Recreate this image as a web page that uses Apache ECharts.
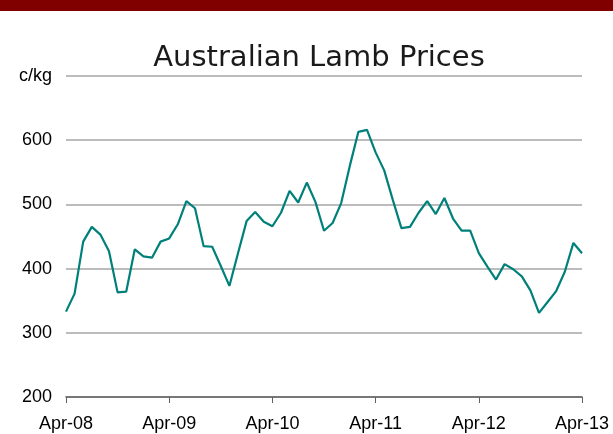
<!DOCTYPE html>
<html>
<head>
<meta charset="utf-8">
<script src="https://cdn.jsdelivr.net/npm/echarts@6/dist/echarts.min.js"></script>
<style>
  html, body { margin: 0; padding: 0; background: #fff; }
  #bar { position: absolute; left: 0; top: 0; width: 613px; height: 11px; background: #800000; }
  #chart { position: absolute; left: 0; top: 0; width: 613px; height: 434px; }
</style>
</head>
<body>
<div id="chart"></div>
<div id="bar"></div>
<script>
// monthly lamb prices, c/kg, Apr-08 .. Apr-13
const xTickLabels = ["Apr-08", "Apr-09", "Apr-10", "Apr-11", "Apr-12", "Apr-13"];
const prices = [
  333, 361, 442, 465, 453, 427, 363, 364, 430, 419, 417, 442,
  447, 469, 505, 494, 435, 434, 404, 373, 424, 474, 488, 473,
  466, 487, 521, 503, 534, 504, 459, 471, 502, 560, 613, 616,
  581, 553, 507, 463, 465, 487, 505, 485, 510, 478, 459, 459,
  424, 403, 383, 407, 399, 388, 366, 331, 348, 365, 395, 440,
  424
];
const yTicks = [200, 300, 400, 500, 600, 700];

const chart = echarts.init(document.getElementById("chart"));
const labelFont = { fontFamily: "Liberation Sans, Arial, sans-serif", fontSize: 18, color: "#000" };

chart.setOption({
  animation: false,
  title: {
    text: "Australian Lamb Prices",
    left: 314,
    top: 39,
    textAlign: "center",
    textStyle: { fontFamily: "DejaVu Sans", fontWeight: "normal", fontSize: 29, color: "#1a1a1a" }
  },
  grid: { left: 66, right: 31, top: 76, bottom: 37 },
  xAxis: {
    type: "value",
    min: 0,
    max: 60,
    interval: 12,
    axisLine: { lineStyle: { color: "#606060", width: 1.5 } },
    axisTick: { show: true, length: 6, lineStyle: { color: "#606060" } },
    splitLine: { show: false },
    axisLabel: Object.assign({
      margin: 18,
      formatter: v => xTickLabels[v / 12] || ""
    }, labelFont)
  },
  yAxis: {
    type: "value",
    min: yTicks[0],
    max: yTicks[yTicks.length - 1],
    interval: 100,
    axisLine: { show: false },
    axisTick: { show: false },
    splitLine: { lineStyle: { color: "#a6a6a6", width: 1.5 } },
    axisLabel: Object.assign({
      margin: 14,
      formatter: v => v === 700 ? "c/kg" : String(v)
    }, labelFont)
  },
  series: [{
    type: "line",
    data: prices.map((p, i) => [i, p]),
    showSymbol: false,
    lineStyle: { color: "#00807a", width: 2.2 }
  }]
});
</script>
</body>
</html>
